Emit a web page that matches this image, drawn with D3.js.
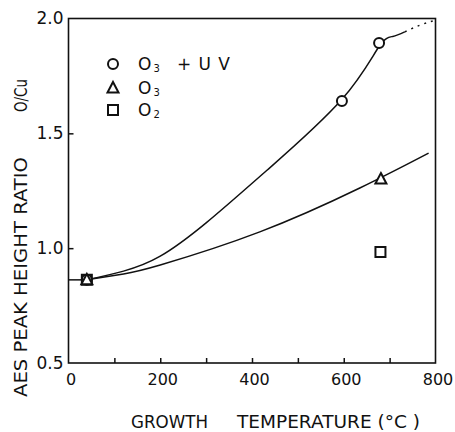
<!DOCTYPE html>
<html>
<head>
<meta charset="utf-8">
<script src="https://cdn.jsdelivr.net/npm/d3@7"></script>
<style>
  body { margin: 0; background: #fff; }
</style>
</head>
<body>
<div class="canvas"></div>
<script>
// measured points
const seriesNames = ["O3 + UV", "O3", "O2"];
const tempO3UV = [40, 596, 677];
const ratioO3UV = [0.862, 1.641, 1.893];
const tempO3 = [40, 681];
const ratioO3 = [0.862, 1.301];
const tempO2 = [40, 680];
const ratioO2 = [0.862, 0.983];

// hand drawn guide curves
const flatT = [0, 40];
const flatR = [0.862, 0.862];
const upperT = [40, 120, 200, 300, 432, 596, 677, 707, 733];
const upperR = [0.862, 0.9, 0.965, 1.11, 1.338, 1.648, 1.878, 1.922, 1.942];
const upperDotT = [733, 765, 795];
const upperDotR = [1.942, 1.97, 1.99];
const lowerT = [40, 120, 200, 417, 635, 785];
const lowerR = [0.862, 0.888, 0.927, 1.071, 1.262, 1.414];

const xTicks = [0, 100, 200, 300, 400, 500, 600, 700, 800];
const yTicks = [0.5, 1.0, 1.5, 2.0];

const width = 455, height = 432;
const margin = ({ top: 18.5, right: 19.5, bottom: 69, left: 68.5 });

const x = d3.scaleLinear().domain([0, 800]).range([margin.left, width - margin.right]);
const y = d3.scaleLinear().domain([0.5, 2.0]).range([height - margin.bottom, margin.top]);

const svg = d3.select('.canvas')
  .append('svg')
  .attr('width', width)
  .attr('height', height)
  .style('font-family', '"DejaVu Sans", sans-serif');

const zip = (a, b) => a.map((v, i) => [v, b[i]]);
const line = d3.line().x(d => x(d[0])).y(d => y(d[1])).curve(d3.curveNatural);

// frame
svg.append('rect')
  .attr('x', x(0)).attr('y', y(2.0))
  .attr('width', x(800) - x(0)).attr('height', y(0.5) - y(2.0))
  .attr('fill', 'none').attr('stroke', '#111').attr('stroke-width', 1.6);

// x axis
const xAxis = svg.append('g')
  .attr('transform', `translate(0,${y(0.5)})`)
  .call(d3.axisBottom(x).tickValues(xTicks)
    .tickFormat(d => d % 200 === 0 ? d : '')
    .tickSizeInner(-5).tickSizeOuter(0).tickPadding(11));
xAxis.select('.domain').remove();
xAxis.selectAll('.tick line').attr('stroke', '#111').attr('stroke-width', 1.5)
  .filter(d => d === 0 || d === 800).remove();
xAxis.selectAll('.tick text')
  .attr('font-size', 16).attr('fill', '#111').attr('dx', 2)
  .attr('font-family', '"DejaVu Sans", sans-serif');

// y axis
const yAxis = svg.append('g')
  .attr('transform', `translate(${x(0)},0)`)
  .call(d3.axisLeft(y).tickValues(yTicks)
    .tickFormat(d3.format('.1f'))
    .tickSizeInner(-5).tickSizeOuter(0).tickPadding(5));
yAxis.select('.domain').remove();
yAxis.selectAll('.tick line').attr('stroke', '#111').attr('stroke-width', 1.5)
  .filter(d => d === 0.5 || d === 2.0).remove();
yAxis.selectAll('.tick text')
  .attr('font-size', 17).attr('fill', '#111')
  .attr('font-family', '"DejaVu Sans", sans-serif');

// curves
const curveStroke = p => p.attr('fill', 'none').attr('stroke', '#111').attr('stroke-width', 1.5);
svg.append('path').datum(zip(flatT, flatR)).attr('d', line).call(curveStroke);
svg.append('path').datum(zip(upperT, upperR)).attr('d', line).call(curveStroke);
svg.append('path').datum(zip(upperDotT, upperDotR)).attr('d', line).call(curveStroke)
  .attr('stroke-dasharray', '2,5');
svg.append('path').datum(zip(lowerT, lowerR)).attr('d', line).call(curveStroke);

// marker shapes
const markerPath = {
  circle: 'M5,0A5,5,0,1,1,-5,0A5,5,0,1,1,5,0Z',
  triangle: 'M0,-6L5.5,4.5L-5.5,4.5Z',
  square: 'M-5,-5H5V5H-5Z'
};
function drawMarkers(xs, ys, shape) {
  svg.append('g').selectAll('path')
    .data(zip(xs, ys))
    .join('path')
    .attr('transform', d => `translate(${x(d[0])},${y(d[1])})`)
    .attr('d', markerPath[shape])
    .attr('fill', shape === 'square' ? 'none' : '#fff')
    .attr('stroke', '#111')
    .attr('stroke-width', 2);
}
drawMarkers(tempO3UV, ratioO3UV, 'circle');
drawMarkers(tempO2, ratioO2, 'square');
drawMarkers(tempO3, ratioO3, 'triangle');

// legend
const legend = svg.append('g').attr('font-size', 17).attr('fill', '#111');
const legendRows = [
  { shape: 'circle', y: 64, base: 'O', sub: '3', extra: '+ U V' },
  { shape: 'triangle', y: 88, base: 'O', sub: '3', extra: '' },
  { shape: 'square', y: 110, base: 'O', sub: '2', extra: '' }
];
legendRows.forEach(r => {
  legend.append('path')
    .attr('transform', `translate(113,${r.y})`)
    .attr('d', markerPath[r.shape])
    .attr('fill', '#fff').attr('stroke', '#111').attr('stroke-width', 2);
  const t = legend.append('text').attr('x', 138).attr('y', r.y + 6);
  t.append('tspan').text(r.base);
  t.append('tspan').attr('font-size', 10).attr('dx', 2).attr('dy', 2).text(r.sub);
  if (r.extra) {
    legend.append('text').attr('x', 177).attr('y', r.y + 6)
      .attr('textLength', 53).attr('lengthAdjust', 'spacing').text(r.extra);
  }
});

// axis titles
svg.append('text')
  .attr('x', 131).attr('y', 428)
  .attr('font-size', 18).attr('fill', '#111')
  .attr('textLength', 77).attr('lengthAdjust', 'spacingAndGlyphs')
  .text('GROWTH');
svg.append('text')
  .attr('x', 237).attr('y', 428)
  .attr('font-size', 18).attr('fill', '#111')
  .attr('textLength', 183).attr('lengthAdjust', 'spacingAndGlyphs')
  .text('TEMPERATURE (°C )');

svg.append('text')
  .attr('transform', 'translate(27,397) rotate(-90)')
  .attr('font-size', 18).attr('fill', '#111')
  .attr('textLength', 240).attr('lengthAdjust', 'spacingAndGlyphs')
  .text('AES PEAK HEIGHT RATIO');
svg.append('text')
  .attr('transform', 'translate(27,112) rotate(-90)')
  .attr('font-size', 18).attr('fill', '#111')
  .attr('textLength', 33).attr('lengthAdjust', 'spacingAndGlyphs')
  .text('O/Cu');
</script>
</body>
</html>
